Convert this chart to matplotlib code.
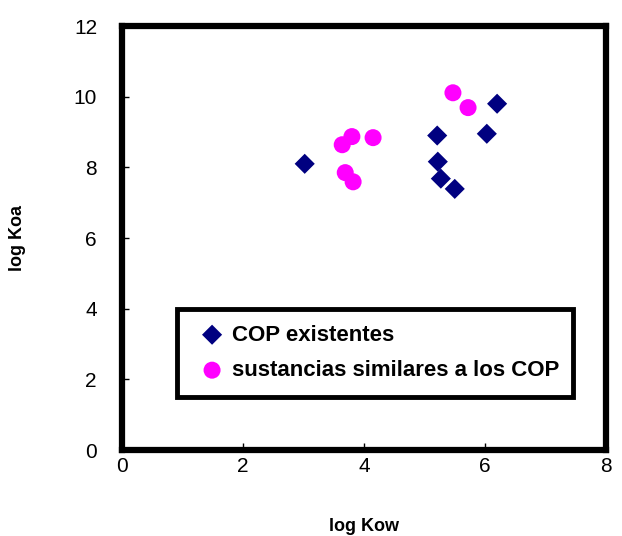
import matplotlib
matplotlib.use('Agg')
import matplotlib.pyplot as plt


# COP existentes (log Kow, log Koa)
cop_kow = [3.02, 5.21, 5.22, 5.27, 5.50, 6.03, 6.20]
cop_koa = [8.10, 8.90, 8.16, 7.68, 7.39, 8.95, 9.80]

# sustancias similares a los COP
sim_kow = [5.47, 5.72, 3.64, 3.80, 4.15, 3.69, 3.82]
sim_koa = [10.11, 9.69, 8.64, 8.87, 8.84, 7.85, 7.59]

x_ticks = [0, 2, 4, 6, 8]
y_ticks = [0, 2, 4, 6, 8, 10, 12]

plt.rcParams['font.family'] = ['Liberation Sans', 'DejaVu Sans']

fig = plt.figure(figsize=(6.22, 5.36), dpi=100)
ax = fig.add_axes([122 / 622, 1 - 450 / 536, 484 / 622, 424 / 536])

ax.scatter(cop_kow, cop_koa, marker='D', s=105, color='#000080',
           edgecolors='none', label='COP existentes', zorder=3)
ax.scatter(sim_kow, sim_koa, marker='o', s=150, color='#ff00ff',
           edgecolors='none', label='sustancias similares a los COP', zorder=3)

ax.set_xlim(0, 8)
ax.set_ylim(0, 12)
ax.set_xticks(x_ticks)
ax.set_yticks(y_ticks)
ax.tick_params(direction='in', length=5, width=1, labelsize=15)
ax.tick_params(axis='y', pad=18)
ax.tick_params(axis='x', pad=5)
for side in ax.spines.values():
    side.set_linewidth(4.5)

ax.set_xlabel('log Kow', fontsize=13, fontweight='bold', labelpad=30)
ax.set_ylabel('log Koa', fontsize=13, fontweight='bold', labelpad=34)

leg = ax.legend(loc='lower left', bbox_to_anchor=(0.114, 0.125, 0.818, 0.21),
                mode='expand', borderaxespad=0,
                prop={'weight': 'bold', 'size': 16},
                frameon=True, fancybox=False, handletextpad=0.05,
                handlelength=1.7, labelspacing=0.65, borderpad=0.72,
                scatterpoints=1)
frame = leg.get_frame()
frame.set_edgecolor('black')
frame.set_linewidth(3.5)
frame.set_alpha(1)

fig.savefig('out.png', dpi=100)
